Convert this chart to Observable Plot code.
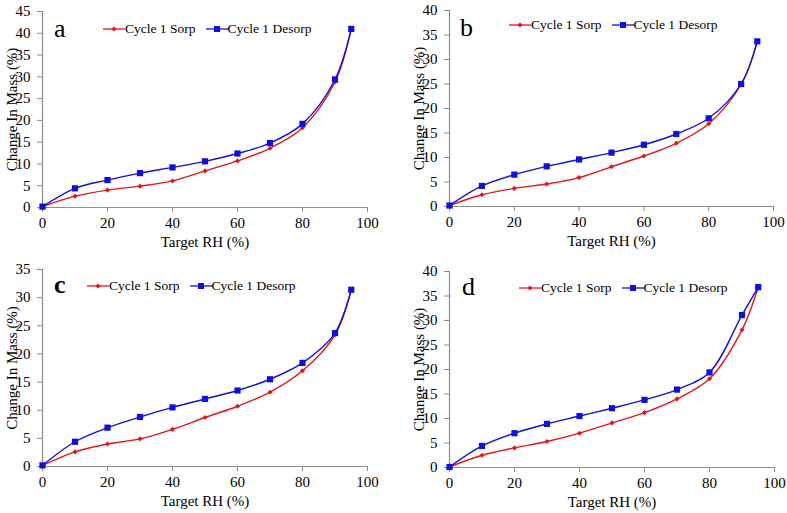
<!DOCTYPE html>
<html>
<head>
<meta charset="utf-8">
<script src="https://cdn.jsdelivr.net/npm/d3@7"></script>
<script src="https://cdn.jsdelivr.net/npm/@observablehq/plot@0.6"></script>
<style>
  body { margin: 0; background: #fff; }
  #chart { position: relative; width: 787px; height: 513px; font-family: "Liberation Serif", "Times New Roman", serif; }
  .panel { position: absolute; }
  .panel svg { font-family: "Liberation Serif", "Times New Roman", serif; }
  .letter { position: absolute; font-size: 26px; line-height: 1; color: #000; }
  .legend { position: absolute; display: flex; align-items: center; font-size: 13.5px; color: #000; white-space: nowrap; }
  .legend .item { display: flex; align-items: center; margin-right: 10px; }
  .legend svg { display: block; }
</style>
</head>
<body>
<div id="chart"></div>
<script>
const rh = [0, 10, 20, 30, 40, 50, 60, 70, 80, 90, 95];
const aSorp   = [0.2, 2.6, 4.0, 4.9, 6.1, 8.4, 10.7, 13.6, 18.3, 28.8, 41.0];
const aDesorp = [0.2, 4.4, 6.3, 7.9, 9.2, 10.6, 12.4, 14.8, 19.2, 29.4, 41.0];
const bSorp   = [0.2, 2.4, 3.7, 4.6, 5.9, 8.1, 10.3, 12.9, 16.9, 24.9, 33.7];
const bDesorp = [0.2, 4.2, 6.5, 8.2, 9.6, 11.0, 12.6, 14.8, 18.0, 25.0, 33.7];
const cSorp   = [0.2, 2.6, 4.0, 4.9, 6.6, 8.7, 10.7, 13.2, 17.0, 23.4, 31.4];
const cDesorp = [0.2, 4.4, 6.9, 8.8, 10.5, 12.0, 13.5, 15.5, 18.4, 23.7, 31.4];
const dSorp   = [0.1, 2.5, 4.0, 5.3, 7.0, 9.1, 11.2, 14.0, 18.1, 28.1, 36.8];
const dDesorp = [0.1, 4.4, 7.0, 8.9, 10.5, 12.1, 13.8, 15.9, 19.4, 31.1, 36.8];

const seriesNames = ["Cycle 1 Sorp", "Cycle 1 Desorp"];
const xTicks = [0, 20, 40, 60, 80, 100];
const panelLetters = ["a", "b", "c", "d"];
const yMaxes = [45, 40, 35, 40];
const xTitle = "Target RH (%)";
const yTitle = "Change In Mass (%)";

const RED = "#e3141c";
const BLUE = "#1010dc";
const AXIS = "#8c8c8c";

const panels = [
  {letter: panelLetters[0], sorp: aSorp, desorp: aDesorp, ymax: yMaxes[0],
   left: 0, top: 0, width: 393, height: 256, mL: 42, mR: 26, mT: 11, mB: 49,
   letterPos: [54, 16], legendPos: [103, 21], bold: false},
  {letter: panelLetters[1], sorp: bSorp, desorp: bDesorp, ymax: yMaxes[1],
   left: 393, top: 0, width: 394, height: 256, mL: 56, mR: 14, mT: 10, mB: 50,
   letterPos: [67, 15], legendPos: [116, 17], bold: false},
  {letter: panelLetters[2], sorp: cSorp, desorp: cDesorp, ymax: yMaxes[2],
   left: 0, top: 256, width: 393, height: 257, mL: 42, mR: 26, mT: 13, mB: 47,
   letterPos: [54, 16], legendPos: [87, 22], bold: true},
  {letter: panelLetters[3], sorp: dSorp, desorp: dDesorp, ymax: yMaxes[3],
   left: 393, top: 256, width: 394, height: 257, mL: 56, mR: 13, mT: 15, mB: 46,
   letterPos: [69, 18], legendPos: [126, 24], bold: false}
];

const chart = document.getElementById("chart");

function legendSwatch(color, symbol) {
  const ns = "http://www.w3.org/2000/svg";
  const svg = document.createElementNS(ns, "svg");
  svg.setAttribute("width", 22); svg.setAttribute("height", 10);
  const line = document.createElementNS(ns, "line");
  line.setAttribute("x1", 0); line.setAttribute("x2", 22);
  line.setAttribute("y1", 5); line.setAttribute("y2", 5);
  line.setAttribute("stroke", color); line.setAttribute("stroke-width", 1.3);
  svg.appendChild(line);
  const path = document.createElementNS(ns, "path");
  const gen = d3.symbol(symbol === "square" ? d3.symbolSquare : d3.symbolDiamond2, symbol === "square" ? 36 : 16);
  path.setAttribute("d", gen());
  path.setAttribute("transform", "translate(11,5)");
  path.setAttribute("fill", color);
  svg.appendChild(path);
  return svg;
}

for (const p of panels) {
  const rows = [];
  rh.forEach((x, i) => {
    rows.push({rh: x, value: p.sorp[i], series: seriesNames[0]});
  });
  rh.forEach((x, i) => {
    rows.push({rh: x, value: p.desorp[i], series: seriesNames[1]});
  });
  const sorpRows = rows.filter(d => d.series === seriesNames[0]);
  const desRows = rows.filter(d => d.series === seriesNames[1]);

  const plot = Plot.plot({
    width: p.width,
    height: p.height,
    marginLeft: p.mL, marginRight: p.mR, marginTop: p.mT, marginBottom: p.mB,
    style: {fontFamily: '"Liberation Serif", "Times New Roman", serif', background: "white"},
    x: {domain: [0, 100]},
    y: {domain: [0, p.ymax]},
    marks: [
      Plot.ruleX([0], {stroke: AXIS, strokeWidth: 1.2}),
      Plot.ruleY([0], {stroke: AXIS, strokeWidth: 1.2}),
      Plot.axisX({ticks: xTicks, tickSize: 5, tickPadding: 5, stroke: AXIS, fill: "black",
                  fontSize: 15, label: xTitle, labelAnchor: "center", labelOffset: 39, labelArrow: "none"}),
      Plot.axisY({ticks: d3.range(0, p.ymax + 1, 5), tickSize: 5, tickPadding: 7, stroke: AXIS, fill: "black",
                  fontSize: 15, label: yTitle, labelAnchor: "center", labelOffset: 36, labelArrow: "none"}),
      Plot.line(sorpRows, {x: "rh", y: "value", stroke: RED, strokeWidth: 1.4, curve: "catmull-rom"}),
      Plot.line(desRows, {x: "rh", y: "value", stroke: BLUE, strokeWidth: 1.4, curve: "catmull-rom"}),
      Plot.dot(sorpRows, {x: "rh", y: "value", fill: RED, symbol: "diamond2", r: 2.3}),
      Plot.dot(desRows, {x: "rh", y: "value", fill: BLUE, symbol: "square", r: 3.5})
    ]
  });

  const div = document.createElement("div");
  div.className = "panel";
  div.style.left = p.left + "px";
  div.style.top = p.top + "px";
  div.style.width = p.width + "px";
  div.style.height = p.height + "px";
  div.appendChild(plot);

  const letter = document.createElement("div");
  letter.className = "letter";
  letter.textContent = p.letter;
  letter.style.left = p.letterPos[0] + "px";
  letter.style.top = p.letterPos[1] + "px";
  if (p.bold) letter.style.fontWeight = "bold";
  div.appendChild(letter);

  const legend = document.createElement("div");
  legend.className = "legend";
  legend.style.left = p.legendPos[0] + "px";
  legend.style.top = p.legendPos[1] + "px";
  [[seriesNames[0], RED, "diamond"], [seriesNames[1], BLUE, "square"]].forEach(([name, color, sym]) => {
    const item = document.createElement("div");
    item.className = "item";
    item.appendChild(legendSwatch(color, sym));
    const t = document.createElement("span");
    t.textContent = name;
    item.appendChild(t);
    legend.appendChild(item);
  });
  div.appendChild(legend);

  chart.appendChild(div);
}
</script>
</body>
</html>
